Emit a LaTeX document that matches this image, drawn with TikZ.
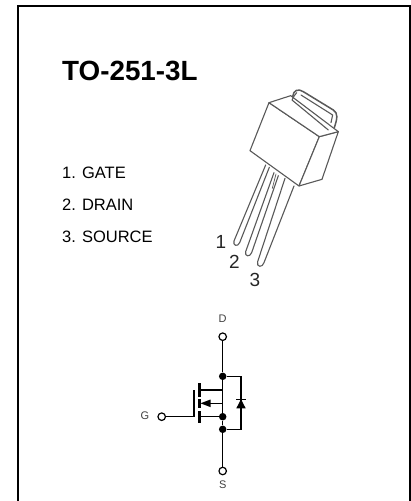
\documentclass[tikz,border=0pt]{standalone}
\usepackage{fontspec}
\setmainfont{Liberation Sans}
\tikzset{
  pkg/.style={draw=black!65,line width=1.1pt,line join=round,line cap=round},
  wire/.style={draw=black,line width=1.2pt},
  bar/.style={draw=black,line width=3pt},
  dot/.style={circle,fill=black,inner sep=0pt,minimum size=7.5pt},
  term/.style={circle,draw=black,fill=white,line width=1.2pt,inner sep=0pt,minimum size=7.5pt},
  title/.style={font=\fontsize{27.8}{30}\selectfont\bfseries,anchor=base west,inner sep=0pt},
  item/.style={font=\fontsize{16.5}{18}\selectfont,anchor=base west,inner sep=0pt},
  pin/.style={font=\fontsize{19}{22}\selectfont,text=black!85,inner sep=0pt},
  small/.style={font=\fontsize{11}{12}\selectfont,text=black!75,inner sep=0pt},
}
\begin{document}
\begin{tikzpicture}[x=1pt,y=-1pt]
\useasboundingbox (0,0) rectangle (411,501);
\clip (0,0) rectangle (411,501);
\fill[white] (0,0) rectangle (411,501);
% frame
\draw[black,line width=2pt] (18,510) -- (18,6) -- (410,6) -- (410,510);
% texts
\node[title] (ttl) at (62,80) {TO-251-3L};
\node[item] (i1) at (62,178.5) {1. GATE};
\node[item] (i2) at (62,210.5) {2. DRAIN};
\node[item] (i3) at (62,242.5) {3. SOURCE};
\node[pin] (p1) at (221,242) {1};
\node[pin] (p2) at (234.5,262) {2};
\node[pin] (p3) at (255,279.5) {3};
% package
\begin{scope}[shift={(200,80)},x=0.3333pt,y=-0.3333pt]
\draw[pkg] (197,255) -- (102,483) .. controls (98,497) and (113,502) .. (119,488) -- (208,262);
\draw[pkg] (222,278) -- (137,515) .. controls (133,530) and (150,532) .. (155,518) -- (235,287);
\draw[pkg] (255,295) -- (173,545) .. controls (168,562) and (188,564) .. (192,548) -- (282,318);
\draw[pkg,line width=0.7pt] (228,282) -- (217,325);
\draw[pkg,fill=white] (207,68) -- (150,212) -- (297,318) -- (358,170) -- cycle;
\draw[pkg,fill=white] (358,170) -- (415,155) -- (366,298) -- (297,318) -- cycle;
\draw[pkg,fill=white] (207,68) -- (272,47) -- (415,155) -- (358,170) -- cycle;
\draw[pkg,line width=1.5pt] (278,50) .. controls (280,30) and (295,25) .. (310,35) -- (400,90) .. controls (415,100) and (412,115) .. (403,143);
\draw[pkg] (290,38) .. controls (283,45) and (280,52) .. (276,60) -- (385,150);
\draw[pkg] (303,45) -- (398,105) -- (393,128);
\end{scope}
% MOSFET
\node[small] (dl) at (222.7,318.5) {D};
\node[small] (sl) at (222.7,485) {S};
\node[small] (gl) at (145,415.5) {G};
\node[term] (dt) at (222.7,336.7) {};
\node[term] (st) at (222.7,471) {};
\node[term] (gt) at (161.7,416.7) {};
\node[dot] (n1) at (222.7,376.3) {};
\node[dot] (n2) at (222.7,416.7) {};
\node[dot] (n3) at (222.7,429.3) {};
\coordinate (gc) at (194,416.7);
\coordinate (gu) at (194,390);
\coordinate (dj) at (199.3,390);
\coordinate (dk) at (222.7,390);
\coordinate (sj) at (199.3,416.7);
\coordinate (mj) at (203,403.3);
\coordinate (mk) at (222.7,403.3);
\coordinate (ar) at (241,376.3);
\coordinate (br) at (241,429.3);
\draw[wire] (dt) -- (n1) -- (dk) -- (dj);
\draw[wire] (n3) -- (st);
\draw[wire] (mk) -- (n2) -- (n3);
\draw[wire] (dk) -- (mk);
\draw[wire] (gt) -- (gc) -- (gu);
\draw[wire] (sj) -- (n2);
\draw[wire] (mj) -- (mk);
\draw[wire] (n1) -- (ar) -- (br) -- (n3);
\draw[bar] (199.3,383.3) -- (199.3,396.7);
\draw[bar] (199.3,399.3) -- (199.3,408.3);
\draw[bar] (199.3,411) -- (199.3,422.7);
\fill[black] (200.5,403.3) -- (210.5,399.5) -- (210.5,407.1) -- cycle;
\fill[black] (241,399.3) -- (245.7,408.3) -- (236.3,408.3) -- cycle;
\draw[wire] (236.3,399.3) -- (245.7,399.3);
\end{tikzpicture}
\end{document}
